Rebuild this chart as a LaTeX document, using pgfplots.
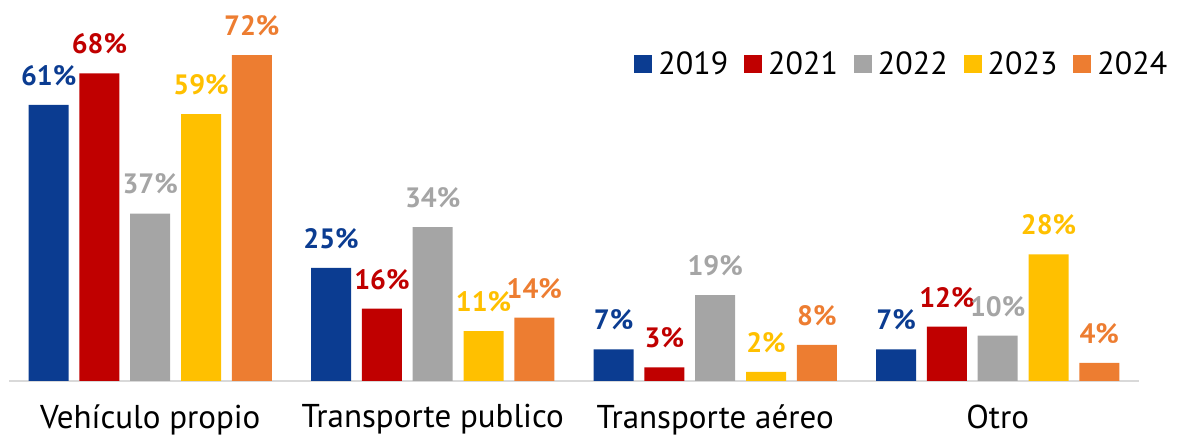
\documentclass[border=0pt]{standalone}
\usepackage{fontspec}
\setmainfont{PT Sans}
\usepackage{pgfplots}
\pgfplotsset{compat=1.18}
\definecolor{c2019}{HTML}{0B3C91}
\definecolor{c2021}{HTML}{C00000}
\definecolor{c2022}{HTML}{A5A5A5}
\definecolor{c2023}{HTML}{FFC000}
\definecolor{c2024}{HTML}{ED7D31}
\definecolor{axisgray}{HTML}{D9D9D9}
\begin{document}
\begin{tikzpicture}
\useasboundingbox (-9pt,-63pt) rectangle (1177pt,381pt);
\begin{axis}[
  at={(0pt,0pt)}, anchor=south west,
  scale only axis, width=1130pt, height=362pt,
  xmin=-0.5, xmax=3.5, ymin=0, ymax=80,
  /pgf/number format/assume math mode=true,
  axis x line*=bottom, axis y line=none,
  x axis line style={axisgray, line width=1.5pt, -},
  xtick={0,1,2,3}, xticklabels={Vehículo propio, Transporte publico, Transporte aéreo, Otro},
  major tick length=0pt,
  xticklabel style={font=\fontsize{33}{36}\selectfont, text=black, yshift=-20pt},
  ybar, bar width=40pt,
  clip=false,
  nodes near coords={\pgfmathprintnumber[assume math mode=true]{\pgfplotspointmeta}\%},
  nodes near coords style={font=\bfseries\fontsize{28}{30}\selectfont, anchor=south, inner sep=0pt, yshift=19pt},
  legend columns=5,
  legend style={draw=none, fill=none, at={(1.027,0.915)}, anchor=north east,
    font=\fontsize{32}{36}\selectfont, inner sep=0pt,
    /tikz/every odd column/.append style={column sep=4pt},
    /tikz/every even column/.append style={column sep=14pt}},
  legend image code/.code={\fill[#1] (0pt,-9pt) rectangle (18pt,9pt);},
]
\addplot[fill=c2019, draw=none, bar shift=-101.6pt, nodes near coords style={text=c2019}] coordinates {(0,61) (1,25) (2,7) (3,7)};
\addplot[fill=c2021, draw=none, bar shift=-50.8pt, nodes near coords style={text=c2021}] coordinates {(0,68) (1,16) (2,3) (3,12)};
\addplot[fill=c2022, draw=none, bar shift=0pt, nodes near coords style={text=c2022}] coordinates {(0,37) (1,34) (2,19) (3,10)};
\addplot[fill=c2023, draw=none, bar shift=50.8pt, nodes near coords style={text=c2023}] coordinates {(0,59) (1,11) (2,2) (3,28)};
\addplot[fill=c2024, draw=none, bar shift=101.6pt, nodes near coords style={text=c2024}] coordinates {(0,72) (1,14) (2,8) (3,4)};
\legend{2019,2021,2022,2023,2024}
\end{axis}
\end{tikzpicture}
\end{document}
